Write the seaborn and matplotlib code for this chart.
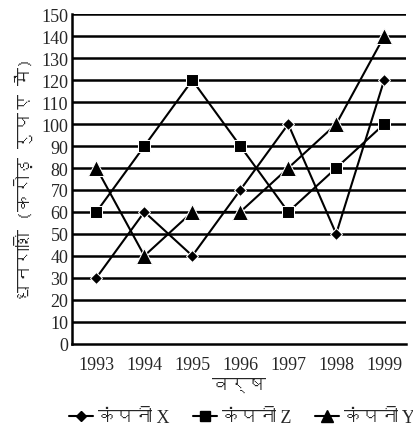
import pandas as pd
import seaborn as sns
import matplotlib.pyplot as plt
from matplotlib import font_manager, ft2font

years = [1993, 1994, 1995, 1996, 1997, 1998, 1999]
company_x = [30, 60, 40, 70, 100, 50, 120]
company_z = [60, 90, 120, 90, 60, 80, 100]
company_y = [80, 40, 60, 60, 80, 100, 140]
series_names = ["कंपनी X", "कंपनी Z", "कंपनी Y"]
y_ticks = list(range(0, 151, 10))


def find_devanagari_font():
    for f in font_manager.fontManager.ttflist:
        try:
            cmap = ft2font.FT2Font(f.fname).get_charmap()
        except Exception:
            continue
        if ord("क") in cmap and ord("ं") in cmap:
            return f.name
    return "DejaVu Sans"


sns.set_style("white")
deva = find_devanagari_font()
plt.rcParams["font.family"] = ["Liberation Serif", deva, "DejaVu Sans"]

df = pd.DataFrame({
    "year": years * 3,
    "value": company_x + company_z + company_y,
    "company": [series_names[0]] * 7 + [series_names[1]] * 7 + [series_names[2]] * 7,
})

fig, ax = plt.subplots(figsize=(4.14, 4.39), dpi=100)
fig.subplots_adjust(left=0.175, right=0.98, top=0.965, bottom=0.215)

sns.lineplot(data=df, x="year", y="value", hue="company", style="company",
             palette=["black"] * 3, markers={series_names[0]: "D", series_names[1]: "s", series_names[2]: "^"},
             dashes=False, linewidth=1.5, ax=ax, legend=False,
             markersize=9)
# smaller diamonds, bigger triangles
for line, ms in zip(ax.get_lines(), [6, 9, 11]):
    line.set_markersize(ms)

for v in y_ticks[1:]:
    ax.axhline(v, color="black", lw=1.8, zorder=0)

ax.set_xlim(1992.5, 1999.45)
ax.set_ylim(0, 150)
ax.set_yticks(y_ticks)
ax.set_xticks(years)
ax.tick_params(axis="y", length=0, labelsize=13, pad=3)
ax.tick_params(axis="x", length=6, direction="inout", labelsize=13, width=1.2, pad=6)
for s in ["top", "right"]:
    ax.spines[s].set_visible(False)
for s in ["left", "bottom"]:
    ax.spines[s].set_color("black")
    ax.spines[s].set_linewidth(1.8)

ax.set_xlabel("वर्ष", fontsize=13, family=[deva, "DejaVu Sans"], labelpad=3)
ax.set_ylabel("धनराशि (करोड़ रुपए में)", fontsize=13, family=[deva, "DejaVu Sans"], labelpad=6)

handles = [plt.Line2D([], [], color="black", marker=m, markersize=ms, lw=1.5)
           for m, ms in zip(["D", "s", "^"], [5, 7, 8])]
fig.legend(handles, series_names, loc="lower center", ncol=3, frameon=False,
           bbox_to_anchor=(0.585, -0.01), handlelength=1.3, handletextpad=0.3,
           columnspacing=1.3, prop={"family": ["Liberation Serif", deva], "size": 13})

fig.savefig("out.png", dpi=100)
